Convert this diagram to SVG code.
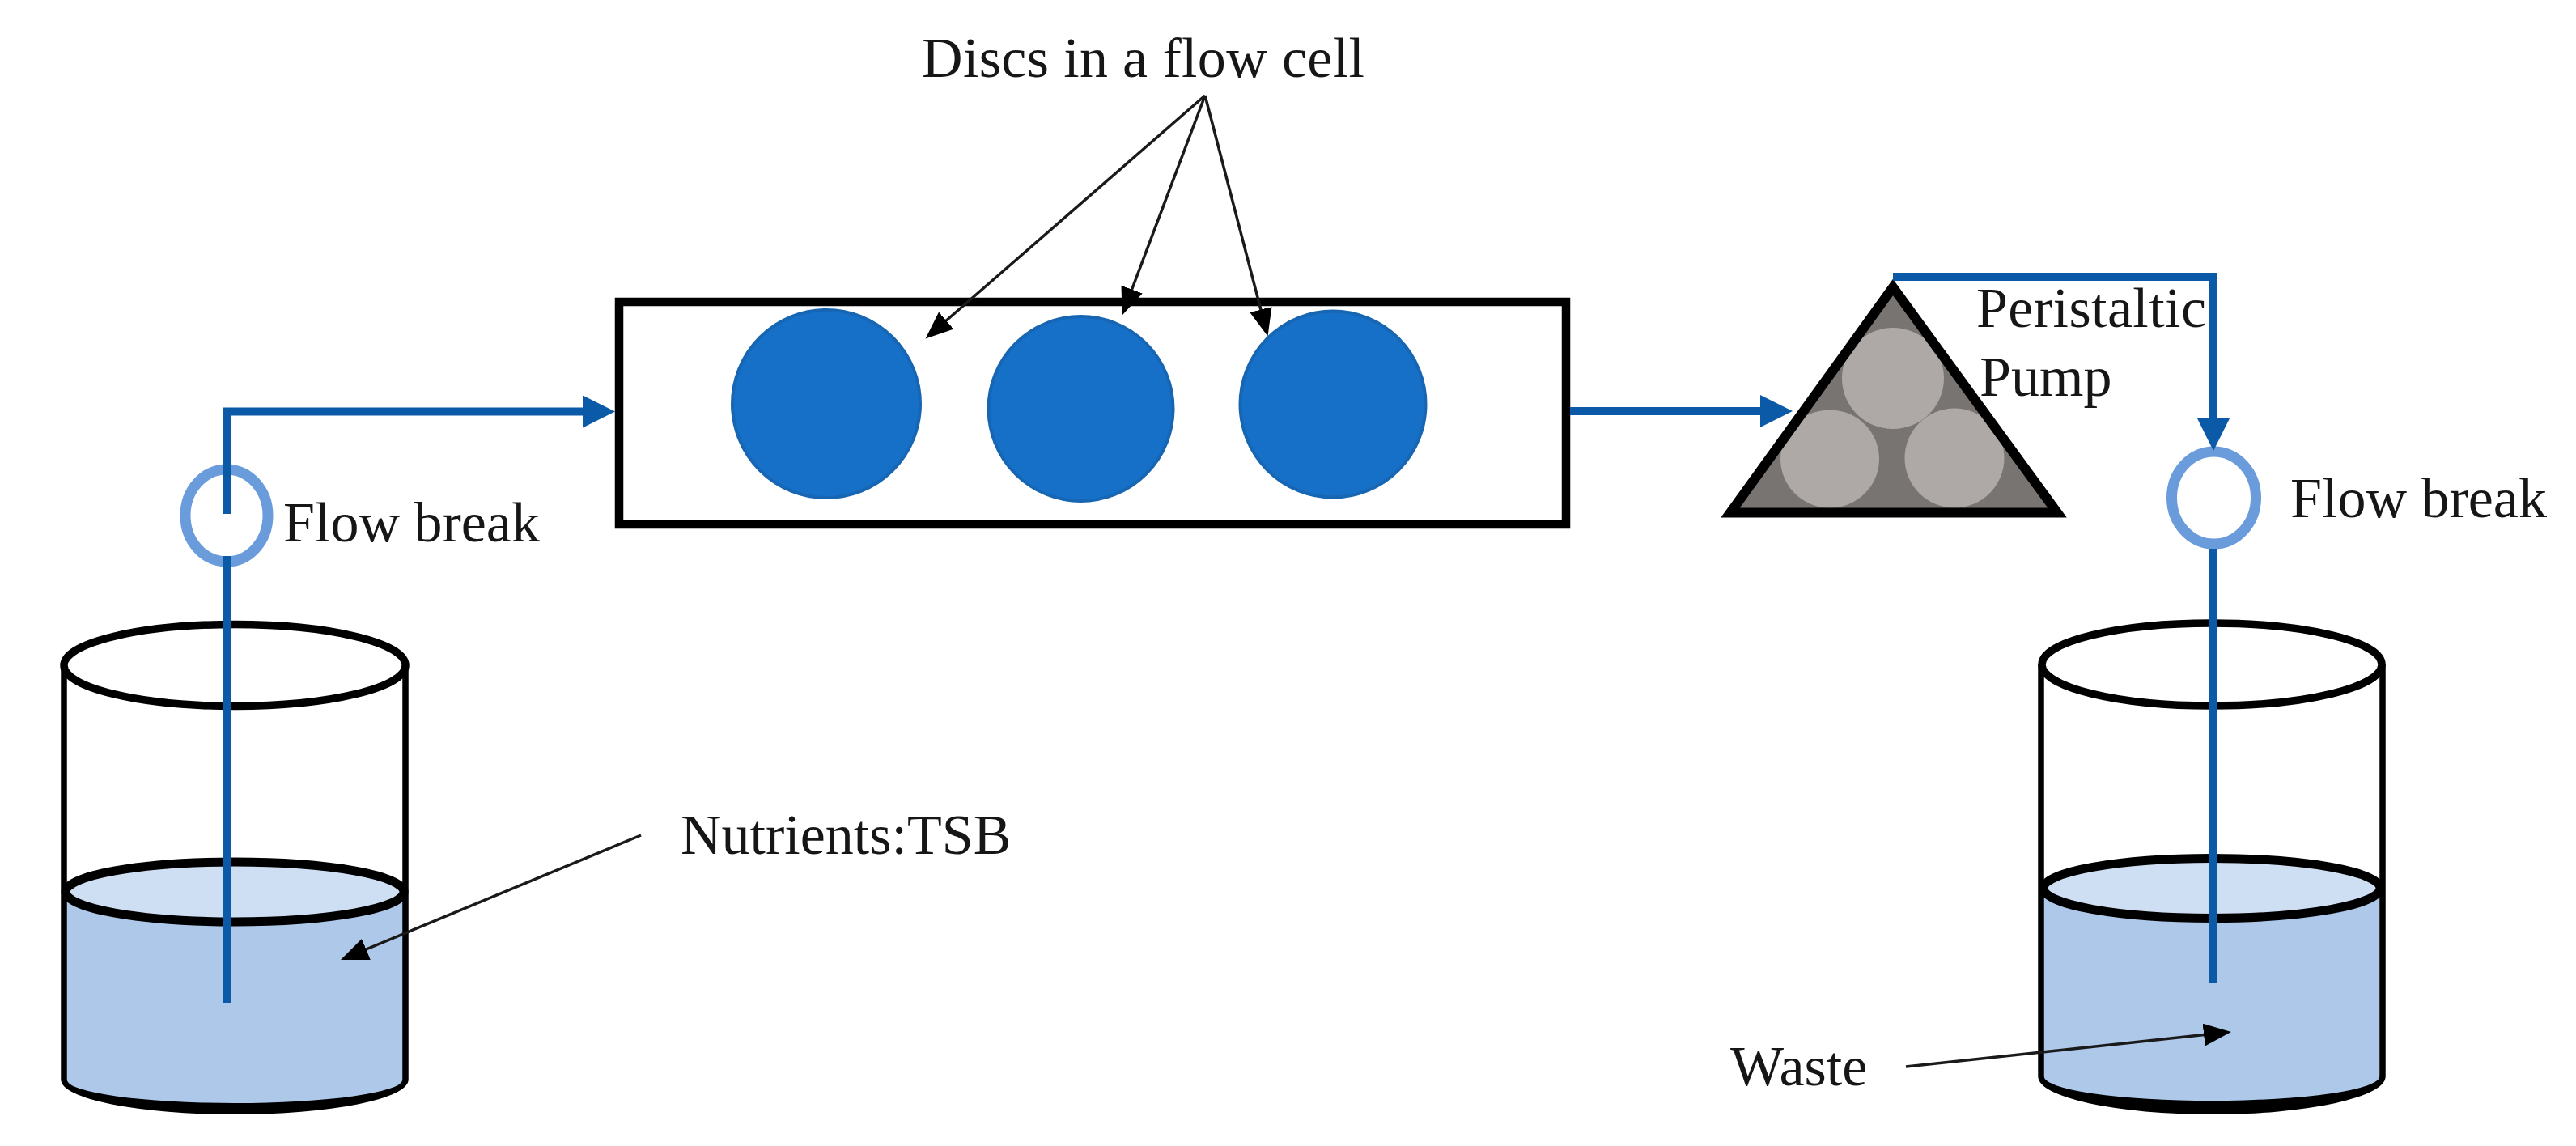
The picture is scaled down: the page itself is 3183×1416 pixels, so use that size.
<svg xmlns="http://www.w3.org/2000/svg" width="3183" height="1416" viewBox="0 0 3183 1416">
<style>
text{font-family:"Liberation Serif","Times New Roman",serif;font-size:70px;fill:#161616}
.wall{fill:none;stroke:#000;stroke-width:7.5}
.base{fill:#000;stroke:none}
.rim{fill:#fff;stroke:#000;stroke-width:9.5}
.body{fill:#adc8e9;stroke:none}
.surface{fill:#cfdff3;stroke:#000;stroke-width:11}
.disc{fill:#1770c8;stroke:#1766b4;stroke-width:4}
.roller{fill:#aea9a6}
.brk{fill:#fff;stroke:#6a9bdb;stroke-width:13}
.tube{fill:none;stroke:#0b5aa8;stroke-width:10;stroke-linejoin:miter}
.lead{fill:none;stroke:#1a1a1a;stroke-width:3.5}
</style>
<defs>
<marker id="blue" markerUnits="userSpaceOnUse" markerWidth="42" markerHeight="42" refX="20" refY="20" orient="auto"><path d="M0,0L40,20L0,40Z" fill="#0b5aa8"/></marker>
<marker id="black" markerUnits="userSpaceOnUse" markerWidth="36" markerHeight="30" refX="17" refY="14" orient="auto"><path d="M0,0L34,14L0,28Z" fill="#000"/></marker>
</defs>
<rect width="3183" height="1416" fill="#fff"/>
<g id="nutrient-vessel">
<path class="body" d="M79,1100V1334A211,36 0 0 0 501,1334V1100Z"/>
<path class="wall" d="M79,822V1334M501,822V1334"/>
<path class="base" d="M75.25,1334A214.75,43 0 0 0 504.75,1334H497.25A207.25,29 0 0 1 82.75,1334Z"/>
<ellipse class="rim" cx="290" cy="822" rx="211" ry="50.5"/>
<ellipse class="surface" cx="290" cy="1102" rx="209" ry="37"/>
</g>
<g id="waste-vessel">
<path class="body" d="M2522,1097V1330A211,39 0 0 0 2944,1330V1097Z"/>
<path class="wall" d="M2522,821V1330M2944,821V1330"/>
<path class="base" d="M2518.25,1330A214.75,47 0 0 0 2947.75,1330H2940.25A207.25,30 0 0 1 2525.75,1330Z"/>
<ellipse class="rim" cx="2733" cy="821" rx="210" ry="51"/>
<ellipse class="surface" cx="2733" cy="1097.5" rx="208" ry="37"/>
</g>
<g id="flow-cell">
<rect x="765" y="373" width="1170" height="275" fill="#fff" stroke="#000" stroke-width="10.5"/>
<ellipse class="disc" cx="1021" cy="499" rx="116" ry="116"/>
<ellipse class="disc" cx="1335.5" cy="505" rx="114" ry="114"/>
<ellipse class="disc" cx="1647" cy="499.5" rx="114.5" ry="115"/>
</g>
<g id="pump">
<polygon points="2339,355 2138,633.5 2542,633.5" fill="#787472"/>
<ellipse class="roller" cx="2339" cy="467.5" rx="63" ry="62.5"/>
<ellipse class="roller" cx="2261" cy="567" rx="61" ry="60.5"/>
<ellipse class="roller" cx="2415" cy="566" rx="61.5" ry="61.5"/>
<polygon points="2339,355 2138,633.5 2542,633.5" fill="none" stroke="#000" stroke-width="12" stroke-linejoin="miter"/>
</g>
<g id="flow-break-left"><ellipse class="brk" cx="280" cy="637" rx="51" ry="57"/></g>
<g id="flow-break-right"><ellipse class="brk" cx="2735.5" cy="615" rx="52" ry="57"/></g>
<g id="connectors">
<path class="tube" d="M280,635V508.5H740" marker-end="url(#blue)"/>
<path class="tube" d="M280,687V1239"/>
<path class="tube" d="M1940,508H2195" marker-end="url(#blue)"/>
<path class="tube" d="M2339,342H2735V537" marker-end="url(#blue)"/>
<path class="tube" d="M2735,678V1214"/>
<path class="lead" d="M1489,118L1156.4,407.3" marker-end="url(#black)"/>
<path class="lead" d="M1489,118L1392.6,373.5" marker-end="url(#black)"/>
<path class="lead" d="M1489,118L1562.2,399" marker-end="url(#black)"/>
<path class="lead" d="M792,1032L436.7,1179.5" marker-end="url(#black)"/>
<path class="lead" d="M2355,1318L2740,1276.8" marker-end="url(#black)"/>
</g>
<g id="labels">
<text x="1139" y="95" textLength="547">Discs in a flow cell</text>
<text x="350" y="669">Flow break</text>
<text x="2442" y="404" textLength="284">Peristaltic</text>
<text x="2446" y="489">Pump</text>
<text x="2830" y="639">Flow break</text>
<text x="841" y="1055">Nutrients:TSB</text>
<text x="2138" y="1341">Waste</text>
</g>
</svg>
